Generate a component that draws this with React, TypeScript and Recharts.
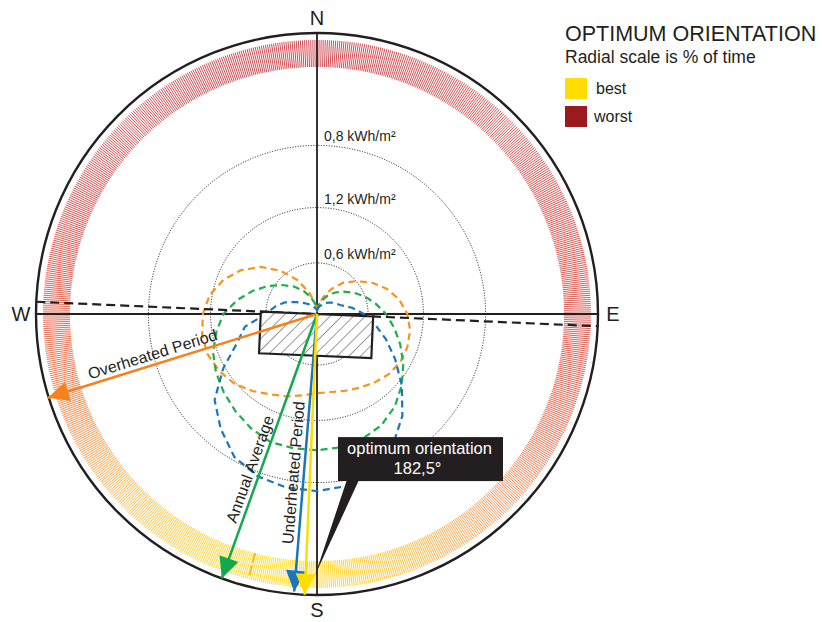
import React from "react";
import {
  PieChart,
  Pie,
  RadarChart,
  Radar,
  PolarGrid,
  PolarAngleAxis,
  PolarRadiusAxis,
  ScatterChart,
  Scatter,
  XAxis,
  YAxis,
} from "recharts";

const W = 823;
const H = 622;
const CX = 317;
const CY = 314;
const OUTER = 281;
const RMAX = 3.3; // kWh/m² at the outer circle
const DEG = Math.PI / 180;
const FONT = "'Liberation Sans', Arial, Helvetica, sans-serif";
const INK = "#231f20";

// sampled orientations, degrees from north clockwise
const bearings = [
  0, 10, 20, 30, 40, 50, 60, 70, 80, 90, 100, 110, 120, 130, 140, 150, 160, 170,
  180, 190, 200, 210, 220, 230, 240, 250, 260, 270, 280, 290, 300, 310, 320, 330, 340, 350,
];

const overheated = [
  0.03, 0.1, 0.21, 0.34, 0.48, 0.6, 0.74, 0.87, 0.98, 1.06, 1.11, 1.13, 1.13, 1.1, 1.05, 1.0, 0.96, 0.93,
  0.93, 0.97, 1.03, 1.09, 1.18, 1.27, 1.33, 1.37, 1.37, 1.34, 1.28, 1.17, 1.03, 0.86, 0.66, 0.46, 0.27, 0.12,
];
const annual = [
  0.05, 0.1, 0.17, 0.25, 0.33, 0.41, 0.5, 0.6, 0.7, 0.81, 0.92, 1.04, 1.17, 1.3, 1.42, 1.51, 1.56, 1.59,
  1.6, 1.6, 1.6, 1.55, 1.49, 1.43, 1.37, 1.3, 1.2, 1.1, 0.95, 0.8, 0.66, 0.53, 0.42, 0.31, 0.21, 0.12,
];
const underheated = [
  0.05, 0.07, 0.1, 0.13, 0.17, 0.21, 0.25, 0.3, 0.42, 0.55, 0.69, 0.86, 1.06, 1.3, 1.56, 1.78, 1.96, 2.05,
  2.08, 2.07, 2.03, 1.94, 1.76, 1.57, 1.27, 1.0, 0.86, 0.6, 0.5, 0.4, 0.28, 0.2, 0.15, 0.11, 0.08, 0.06,
];

// 0 = worst, 1 = best
const bandScore = [
  0.0, 0.02, 0.03, 0.04, 0.05, 0.06, 0.07, 0.08, 0.1, 0.12, 0.15, 0.2, 0.28, 0.4, 0.52, 0.66, 0.8, 0.9,
  0.97, 1.0, 0.97, 0.9, 0.8, 0.68, 0.55, 0.42, 0.3, 0.2, 0.12, 0.08, 0.05, 0.03, 0.02, 0.01, 0.0, 0.0,
];

const ringValues = [0.6, 1.25, 1.98];
const ringLabels = ["0,6 kWh/m²", "1,2 kWh/m²", "0,8 kWh/m²"];

const compassBearings = [0, 90, 180, 270];
const compassLabels = ["N", "E", "S", "W"];

const arrowLabels = ["Overheated Period", "Annual Average", "Underheated Period", ""];
const arrowBearings = [252.7, 199.8, 184.7, 182.5];
const arrowLengths = [3.31, 3.3, 3.27, 3.3];
const arrowLabelAt = [0.6, 0.6, 0.575, 0.5];
const arrowColors = ["#f5821f", "#13a84b", "#1b75bc", "#ffdd00"];

const optimumBearing = 182.5;
const buildingHalfWidth = 0.66;
const buildingDepth = 0.49;

const markerBearing = 194.5;
const markerSpan = [2.9, 3.18];

const calloutText = ["optimum orientation", "182,5°"];
const calloutAt = [144.5, 2.093];
const calloutTarget = [180.4, 3.065];

const polar = (bearing: number, r: number) => ({
  x: r * Math.sin(bearing * DEG),
  y: r * Math.cos(bearing * DEG),
});

const curveData = bearings.map((b, i) => ({
  bearing: b,
  overheated: overheated[i],
  annual: annual[i],
  underheated: underheated[i],
}));

const bandData = bearings.map((b, i) => ({
  bearing: b,
  score: bandScore[i],
  span: 360 / bearings.length,
}));

const WORST_RGB = [198, 28, 38];
const MID_RGB = [243, 122, 38];
const BEST_RGB = [255, 212, 0];

function bandColor(s: number) {
  const [a, b, t] =
    s < 0.5 ? [WORST_RGB, MID_RGB, s / 0.5] : [MID_RGB, BEST_RGB, (s - 0.5) / 0.5];
  return `rgb(${a.map((v, k) => Math.round(v + (b[k] - v) * t)).join(",")})`;
}

// each band sector is drawn as fine radial strokes
function BandSector(props: any) {
  const { cx, cy, innerRadius, outerRadius, startAngle, endAngle, index } = props;
  const n = bandScore.length;
  const own = bandScore[index];
  const prev = bandScore[(index - 1 + n) % n];
  const next = bandScore[(index + 1) % n];
  const count = 23;
  const lines = [];
  for (let k = 0; k < count; k++) {
    const t = (k + 0.5) / count;
    const a = (startAngle + (endAngle - startAngle) * t) * DEG;
    const u = t - 0.5;
    const s = u < 0 ? own + (prev - own) * -u : own + (next - own) * u;
    const c = Math.cos(a);
    const sn = Math.sin(a);
    lines.push(
      <line
        key={k}
        x1={cx + innerRadius * c}
        y1={cy - innerRadius * sn}
        x2={cx + outerRadius * c}
        y2={cy - outerRadius * sn}
        stroke={bandColor(s)}
        strokeWidth={0.9}
        strokeOpacity={0.88}
      />
    );
  }
  return <g key={`band-${index}`}>{lines}</g>;
}

function CompassTick(props: any) {
  const { x, y, payload } = props;
  const i = compassBearings.indexOf(Number(payload.value));
  if (i < 0) return <g />;
  const dx = x - CX;
  const dy = y - CY;
  const d = Math.hypot(dx, dy) || 1;
  const r = 296;
  return (
    <text
      x={CX + (dx / d) * r}
      y={CY + (dy / d) * r}
      dy="0.36em"
      textAnchor="middle"
      fontSize={20}
      fontFamily={FONT}
      fill={INK}
    >
      {compassLabels[i]}
    </text>
  );
}

const noShape = () => <g />;

function arrowShape(color: string) {
  return (props: any) => {
    const { cx, cy, payload } = props;
    const b = payload.bearing * DEG;
    if (payload.role === "tip") {
      const dx = Math.sin(b);
      const dy = -Math.cos(b);
      const len = 21;
      const half = 10;
      const bx = cx - dx * len;
      const by = cy - dy * len;
      return (
        <polygon
          points={`${cx},${cy} ${bx - dy * half},${by + dx * half} ${bx + dy * half},${by - dx * half}`}
          fill={color}
        />
      );
    }
    if (payload.role === "label" && payload.text) {
      const ang = Math.atan2(Math.cos(b), -Math.sin(b)) / DEG;
      return (
        <text
          transform={`translate(${cx},${cy}) rotate(${ang})`}
          y={-5}
          textAnchor="middle"
          fontSize={16}
          fontFamily={FONT}
          fill={INK}
        >
          {payload.text}
        </text>
      );
    }
    return <g />;
  };
}

const arrowSeries = arrowBearings.map((b, i) => [
  { ...polar(b, 0), bearing: b, role: "start" },
  { ...polar(b, arrowLengths[i] * arrowLabelAt[i]), bearing: b, role: "label", text: arrowLabels[i] },
  { ...polar(b, arrowLengths[i]), bearing: b, role: "tip" },
]);

const facadeAxis = [polar(optimumBearing + 90, RMAX), polar(optimumBearing - 90, RMAX)];

const u = polar(optimumBearing - 90, 1); // along the facade, towards east
const nrm = polar(optimumBearing, 1); // facing direction
const buildingCorners = [
  { x: -u.x * buildingHalfWidth, y: -u.y * buildingHalfWidth },
  { x: u.x * buildingHalfWidth, y: u.y * buildingHalfWidth },
  { x: u.x * buildingHalfWidth + nrm.x * buildingDepth, y: u.y * buildingHalfWidth + nrm.y * buildingDepth },
  { x: -u.x * buildingHalfWidth + nrm.x * buildingDepth, y: -u.y * buildingHalfWidth + nrm.y * buildingDepth },
];

const buildingOutline = (props: any) => {
  const pts = props.points.map((p: any) => `${p.x},${p.y}`).join(" ");
  return (
    <g>
      <defs>
        <pattern id="hatch" width="8.3" height="8.3" patternUnits="userSpaceOnUse" patternTransform="rotate(45)">
          <line x1="0" y1="0" x2="0" y2="8.3" stroke={INK} strokeWidth="0.9" />
        </pattern>
      </defs>
      <polygon points={pts} fill="#fff" />
      <polygon points={pts} fill="url(#hatch)" stroke={INK} strokeWidth={2.2} strokeLinejoin="miter" />
    </g>
  );
};

const markerLine = [polar(markerBearing, markerSpan[0]), polar(markerBearing, markerSpan[1])];

const ringLabelPoints = ringValues.map((v, i) => ({ x: 0, y: v, text: ringLabels[i] }));

const ringLabelShape = (props: any) => (
  <text x={props.cx + 7} y={props.cy - 4} fontSize={14} fontFamily={FONT} fill={INK}>
    {props.payload.text}
  </text>
);

const calloutPoints = [
  { ...polar(calloutAt[0], calloutAt[1]), role: "box" },
  { ...polar(calloutTarget[0], calloutTarget[1]), role: "target" },
];

const calloutPointer = (props: any) => {
  const [box, target] = props.points;
  const baseY = box.y + 22;
  return (
    <polygon
      points={`${box.x - 74},${baseY} ${box.x - 62},${baseY} ${target.x},${target.y}`}
      fill={INK}
    />
  );
};

const calloutShape = (props: any) => {
  const { cx, cy, payload } = props;
  if (payload.role !== "box") return <g />;
  return (
    <g>
      <rect x={cx - 82.5} y={cy - 22} width={165} height={44} fill={INK} />
      <text x={cx - 1} y={cy - 5} textAnchor="middle" fontSize={16.5} fontFamily={FONT} fill="#fff">
        {calloutText[0]}
      </text>
      <text x={cx - 3} y={cy + 15} textAnchor="middle" fontSize={16.5} fontFamily={FONT} fill="#fff">
        {calloutText[1]}
      </text>
    </g>
  );
};

const layer: React.CSSProperties = { position: "absolute", left: 0, top: 0 };
const zeroMargin = { top: 0, right: 0, bottom: 0, left: 0 };

export default function App() {
  return (
    <div style={{ position: "absolute", left: 0, top: 0, width: W, height: H, background: "#fff" }}>
      <div style={layer}>
        <PieChart width={W} height={H} margin={zeroMargin}>
          <Pie
            data={bandData}
            dataKey="span"
            cx={CX}
            cy={CY}
            innerRadius={247}
            outerRadius={274}
            startAngle={95}
            endAngle={-265}
            fill="none"
            stroke="none"
            label={BandSector}
            labelLine={false}
            isAnimationActive={false}
          />
        </PieChart>
      </div>

      <div style={layer}>
        <RadarChart
          width={W}
          height={H}
          data={curveData}
          cx={CX}
          cy={CY}
          outerRadius={OUTER}
          startAngle={90}
          endAngle={-270}
          margin={zeroMargin}
        >
          <PolarGrid
            gridType="circle"
            radialLines={false}
            polarRadius={ringValues.map((v) => (v / RMAX) * OUTER)}
            stroke="#111"
            strokeWidth={1}
            strokeDasharray="1 1.6"
          />
          <PolarAngleAxis dataKey="bearing" tick={CompassTick} tickLine={false} axisLine={false} />
          <PolarRadiusAxis domain={[0, RMAX]} allowDataOverflow tick={false} axisLine={false} />
          <Radar dataKey="overheated" stroke="#f7941d" strokeWidth={2.2} strokeDasharray="7 4.5" fill="none" fillOpacity={0} dot={false} isAnimationActive={false} />
          <Radar dataKey="annual" stroke="#1fae4b" strokeWidth={2.2} strokeDasharray="7 4.5" fill="none" fillOpacity={0} dot={false} isAnimationActive={false} />
          <Radar dataKey="underheated" stroke="#1c75bc" strokeWidth={2.2} strokeDasharray="7 4.5" fill="none" fillOpacity={0} dot={false} isAnimationActive={false} />
          <PolarGrid gridType="circle" polarRadius={[]} polarAngles={[0, 90, 180, 270]} stroke={INK} strokeWidth={1.8} />
          <PolarGrid gridType="circle" radialLines={false} polarRadius={[OUTER]} stroke={INK} strokeWidth={2.4} />
        </RadarChart>
      </div>

      <div style={layer}>
        <ScatterChart
          width={W}
          height={H}
          margin={{ top: CY - OUTER, left: CX - OUTER, right: W - CX - OUTER, bottom: H - CY - OUTER }}
        >
          <XAxis type="number" dataKey="x" domain={[-RMAX, RMAX]} allowDataOverflow hide />
          <YAxis type="number" dataKey="y" domain={[-RMAX, RMAX]} allowDataOverflow hide />
          <Scatter data={facadeAxis} shape={noShape} line={{ stroke: INK, strokeWidth: 2.2, strokeDasharray: "9 5" }} isAnimationActive={false} />
          <Scatter data={[...buildingCorners, buildingCorners[0]]} shape={noShape} line={buildingOutline} isAnimationActive={false} />
          <Scatter data={markerLine} shape={noShape} line={{ stroke: "#f6b21a", strokeWidth: 1.6, strokeDasharray: "10 3" }} isAnimationActive={false} />
          {arrowSeries.map((pts, i) => (
            <Scatter
              key={i}
              data={pts}
              shape={arrowShape(arrowColors[i])}
              line={{ stroke: arrowColors[i], strokeWidth: 2.5 }}
              isAnimationActive={false}
            />
          ))}
          <Scatter data={ringLabelPoints} shape={ringLabelShape} isAnimationActive={false} />
          <Scatter data={calloutPoints} shape={calloutShape} line={calloutPointer} isAnimationActive={false} />
        </ScatterChart>
      </div>

      <svg style={layer} width={W} height={H} fontFamily={FONT}>
        <text x={565} y={40.5} fontSize={21.5} fill={INK}>OPTIMUM ORIENTATION</text>
        <text x={565} y={63} fontSize={17.5} fill={INK}>Radial scale is % of time</text>
        <rect x={565} y={78} width={22} height={21} fill="#ffdd00" />
        <text x={596} y={93.5} fontSize={16} fill={INK}>best</text>
        <rect x={565} y={106} width={22} height={21} fill="#9a1a1f" />
        <text x={594} y={121.5} fontSize={16} fill={INK}>worst</text>
      </svg>
    </div>
  );
}
